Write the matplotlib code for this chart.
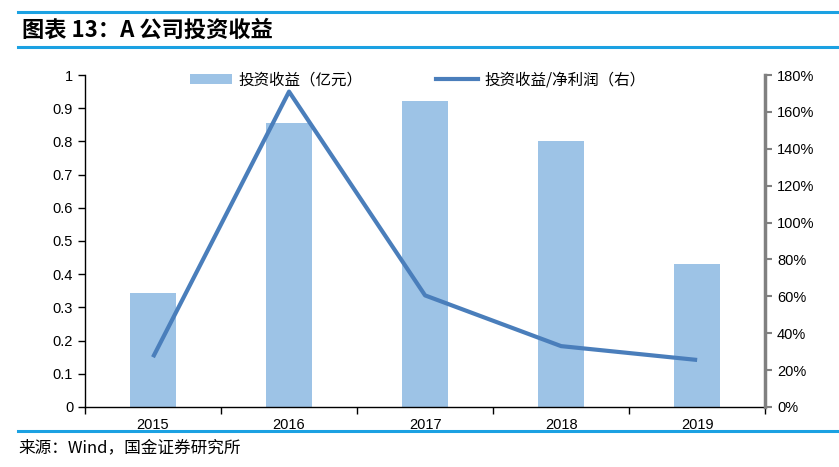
import matplotlib
matplotlib.use("Agg")
import matplotlib.pyplot as plt
from matplotlib.lines import Line2D
from matplotlib.patches import Patch
from matplotlib.ticker import FuncFormatter, MultipleLocator

plt.rcParams['font.family'] = ['Liberation Sans', 'Noto Sans CJK SC', 'DejaVu Sans']

years = ['2015', '2016', '2017', '2018', '2019']
invest_income = [0.343, 0.855, 0.922, 0.80, 0.43]
ratio_pct = [27, 171, 60.5, 33, 25.5]

bar_color = '#9DC3E6'
line_color = '#4A7EBB'
rule_color = '#1BA1E2'

fig = plt.figure(figsize=(8.39, 4.67), dpi=100)
ax = fig.add_axes([0.1013, 0.1285, 0.8107, 0.7109])
ax2 = ax.twinx()

x = list(range(len(years)))
ax.bar(x, invest_income, width=0.34, color=bar_color, zorder=2)
ax2.plot(x, ratio_pct, color=line_color, lw=3, zorder=3, solid_capstyle='butt')

ax.set_xlim(-0.5, 4.5)
ax.set_ylim(0, 1)
ax.yaxis.set_major_locator(MultipleLocator(0.1))
ax.yaxis.set_major_formatter(FuncFormatter(lambda v, p: '0' if abs(v) < 1e-9 else ('1' if abs(v - 1) < 1e-9 else f'{v:.1f}')))
ax2.set_ylim(0, 180)
ax2.yaxis.set_major_locator(MultipleLocator(20))
ax2.yaxis.set_major_formatter(FuncFormatter(lambda v, p: f'{v:.0f}%'))

ax.set_xticks(x)
ax.set_xticklabels(years)
ax.set_xticks([i + 0.5 for i in range(-1, 5)], minor=True)
ax.tick_params(axis='x', which='major', length=0, labelsize=10.5, pad=8)
ax.tick_params(axis='x', which='minor', length=5, direction='out', width=1)
ax.tick_params(axis='y', length=5, direction='out', labelsize=10.5, width=1)
ax2.tick_params(axis='y', length=5, direction='out', labelsize=10.5, color='#808080', width=1.5)

for s in ['top', 'right']:
    ax.spines[s].set_visible(False)
ax2.spines['top'].set_visible(False)
ax2.spines['left'].set_visible(False)
ax2.spines['bottom'].set_visible(False)
ax2.spines['right'].set_color('#808080')
ax2.spines['right'].set_linewidth(2.5)
ax.spines['left'].set_linewidth(1)
ax.spines['bottom'].set_linewidth(1)

handles = [Patch(facecolor=bar_color, edgecolor='none'),
           Line2D([0], [0], color=line_color, lw=3)]
labels = ['投资收益（亿元）', '投资收益/净利润（右）']
leg = fig.legend(handles, labels, loc='center left', bbox_to_anchor=(0.213, 1 - 80/467), ncol=2,
                 frameon=False, columnspacing=4.7, handlelength=2.75, handletextpad=0.4,
                 handleheight=0.6, borderpad=0.2,
                 prop={'family': ['Noto Sans CJK SC'], 'size': 11.2})

# header rules and title
fig.add_artist(Line2D([0.021, 1.0], [1 - 12/467, 1 - 12/467], color=rule_color, lw=2.2))
fig.add_artist(Line2D([0.021, 1.0], [1 - 47/467, 1 - 47/467], color=rule_color, lw=2.2))
fig.text(0.026, 1 - 30/467, '图表 13：A 公司投资收益', fontsize=16, fontweight='bold',
         style='italic', va='center', ha='left', family=['Noto Sans CJK SC', 'DejaVu Sans'])
fig.add_artist(Line2D([0.021, 1.0], [1 - 431/467, 1 - 431/467], color=rule_color, lw=2.2))
fig.text(0.022, 1 - 448/467, '来源：Wind，国金证券研究所', fontsize=12, va='center', ha='left',
         family=['Noto Sans CJK SC', 'DejaVu Sans'])

fig.savefig('out.png', dpi=100)
